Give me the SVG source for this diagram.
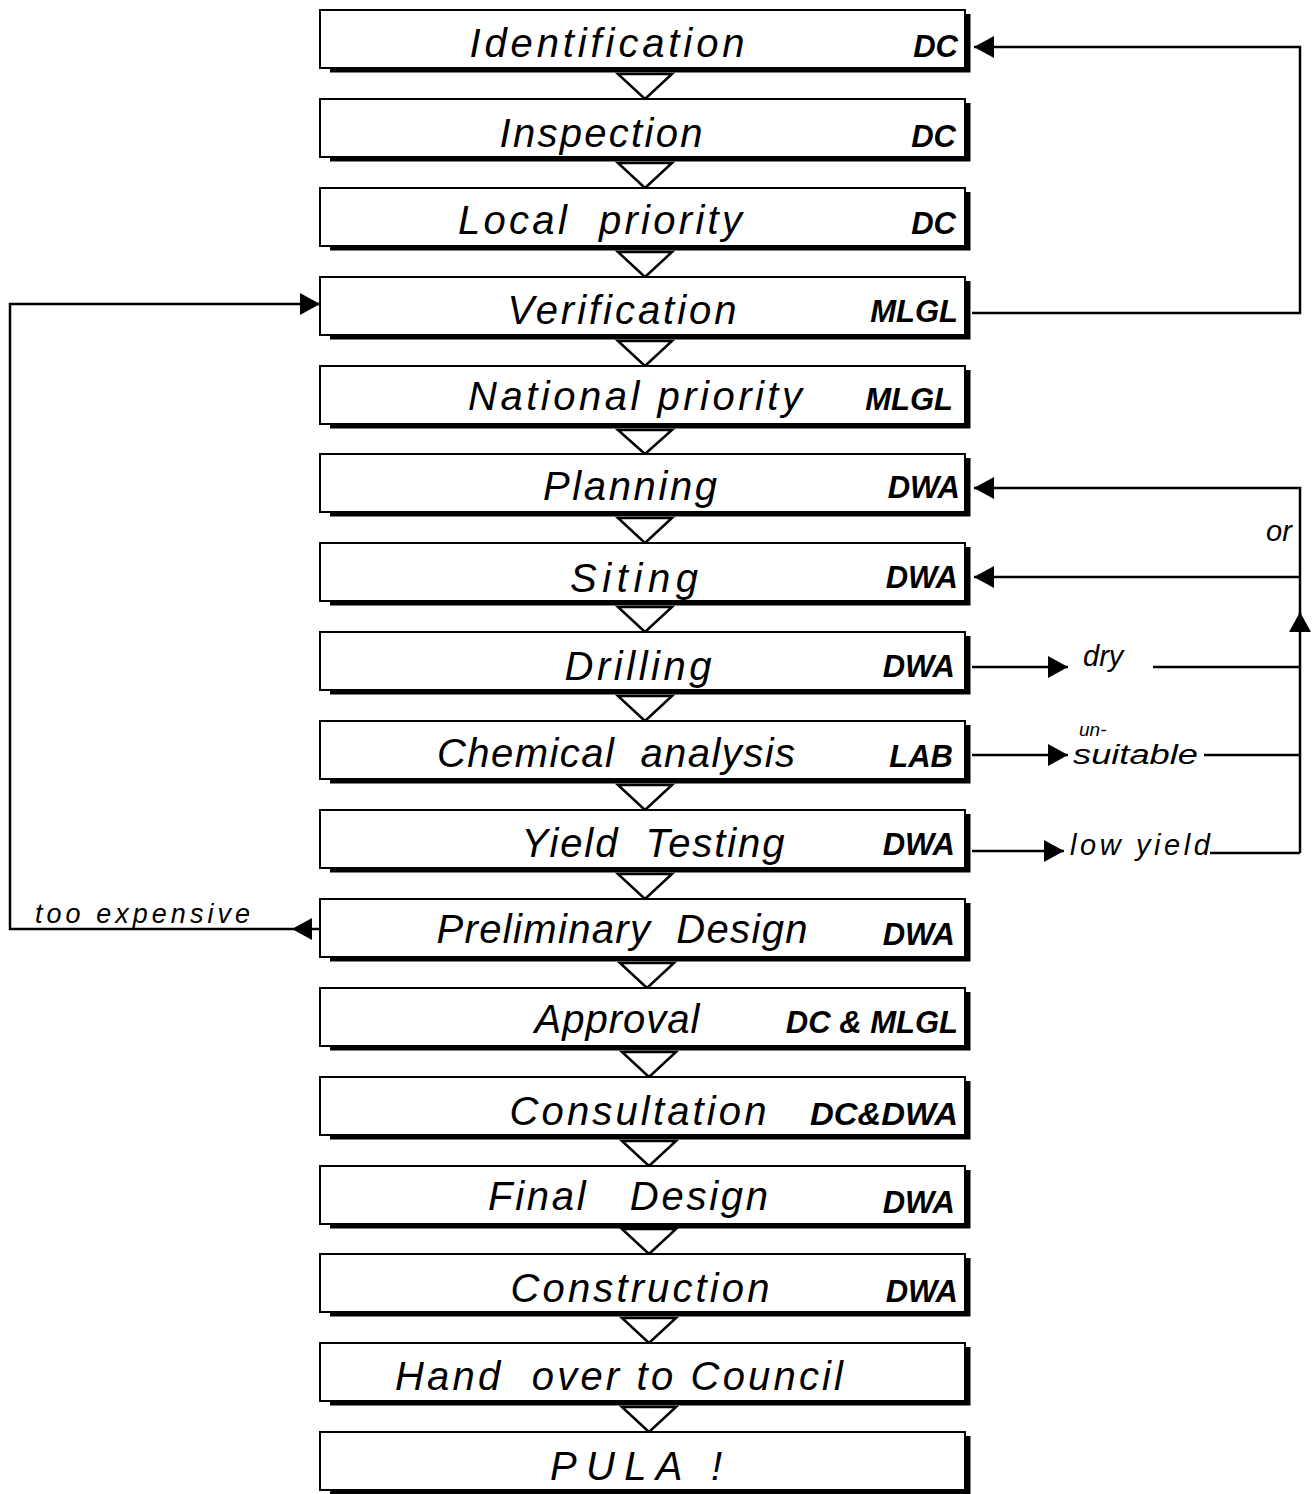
<svg xmlns="http://www.w3.org/2000/svg" width="1313" height="1494" viewBox="0 0 1313 1494">
<style>
.box{fill:#fff;stroke:#000;stroke-width:2}
.sh{fill:none;stroke:#000;stroke-width:5}
.tri{fill:#fff;stroke:#000;stroke-width:2.5;stroke-linejoin:miter}
.lbl{font-family:"Liberation Sans",Arial,sans-serif;font-style:italic;font-size:40px;fill:#000;text-anchor:middle}
.role{font-family:"Liberation Sans",Arial,sans-serif;font-style:italic;font-weight:bold;font-size:31px;fill:#000;text-anchor:end}
.note{font-family:"Liberation Sans",Arial,sans-serif;font-style:italic;font-size:29px;fill:#000}
.con{fill:none;stroke:#000;stroke-width:2.5}
</style>
<defs>
<marker id="ah" markerUnits="userSpaceOnUse" markerWidth="20" markerHeight="22" viewBox="0 0 20 22" refX="20" refY="11" orient="auto">
<path d="M0,0 L20,11 L0,22 z" fill="#000"/>
</marker>
</defs>

<g id="connectors">
<path class="con" d="M972,313 H1300 V47 H974" marker-end="url(#ah)"/>
<path class="con" d="M1300,853 V612" marker-end="url(#ah)"/>
<path class="con" d="M1300,614 V488 H974" marker-end="url(#ah)"/>
<path class="con" d="M1300,577 H974" marker-end="url(#ah)"/>
<path class="con" d="M972,667 H1068" marker-end="url(#ah)"/>
<path class="con" d="M1153,667 H1300"/>
<path class="con" d="M972,755 H1068" marker-end="url(#ah)"/>
<path class="con" d="M1204,755 H1300"/>
<path class="con" d="M972,851 H1064" marker-end="url(#ah)"/>
<path class="con" d="M1210,853 H1300"/>
<path class="con" d="M320,929 H292" marker-end="url(#ah)"/>
<path class="con" d="M292,929 H10 V304 H320" marker-end="url(#ah)"/>
<text class="note" x="1266" y="541">or</text>
<text class="note" x="1083" y="666">dry</text>
<text class="note" x="1079" y="736" style="font-size:19px">un-</text>
<text class="note" x="1073" y="764" textLength="125" lengthAdjust="spacingAndGlyphs" style="font-size:27px">suitable</text>
<text class="note" x="1070" y="855" textLength="140" lengthAdjust="spacing">low yield</text>
<text class="note" x="35" y="923" textLength="215" lengthAdjust="spacing" style="font-size:27px">too expensive</text>
</g>

<g id="flow-arrows">
<polygon class="tri" points="618,74 672,74 645,99"/>
<polygon class="tri" points="618,163 672,163 645,188"/>
<polygon class="tri" points="618,252 672,252 645,277"/>
<polygon class="tri" points="618,341 672,341 645,366"/>
<polygon class="tri" points="618,430 672,430 645,454"/>
<polygon class="tri" points="618,518 672,518 645,543"/>
<polygon class="tri" points="618,607 672,607 645,632"/>
<polygon class="tri" points="618,696 672,696 645,721"/>
<polygon class="tri" points="618,785 672,785 645,810"/>
<polygon class="tri" points="618,874 672,874 645,899"/>
<polygon class="tri" points="620,963 674,963 647,988"/>
<polygon class="tri" points="622,1052 676,1052 649,1077"/>
<polygon class="tri" points="622,1141 676,1141 649,1166"/>
<polygon class="tri" points="622,1229 676,1229 649,1254"/>
<polygon class="tri" points="622,1318 676,1318 649,1343"/>
<polygon class="tri" points="622,1407 676,1407 649,1432"/>
</g>

<g id="n1"><rect class="box" x="320" y="10" width="645" height="58"/><path class="sh" d="M330,70 H968 V14"/><text class="lbl" x="607" y="57" textLength="275" lengthAdjust="spacing">Identification</text><text class="role" x="958" y="57">DC</text></g>
<g id="n2"><rect class="box" x="320" y="99" width="645" height="58"/><path class="sh" d="M330,159 H968 V103"/><text class="lbl" x="601" y="147" textLength="203" lengthAdjust="spacing">Inspection</text><text class="role" x="956" y="147">DC</text></g>
<g id="n3"><rect class="box" x="320" y="188" width="645" height="58"/><path class="sh" d="M330,248 H968 V192"/><text class="lbl" x="600" y="234" textLength="284" lengthAdjust="spacing" xml:space="preserve">Local  priority</text><text class="role" x="956" y="234">DC</text></g>
<g id="n4"><rect class="box" x="320" y="277" width="645" height="58"/><path class="sh" d="M330,337 H968 V281"/><text class="lbl" x="622" y="324" textLength="229" lengthAdjust="spacing">Verification</text><text class="role" x="958" y="322">MLGL</text></g>
<g id="n5"><rect class="box" x="320" y="366" width="645" height="58"/><path class="sh" d="M330,426 H968 V370"/><text class="lbl" x="635" y="410" textLength="334" lengthAdjust="spacing">National priority</text><text class="role" x="953" y="410">MLGL</text></g>
<g id="n6"><rect class="box" x="320" y="454" width="645" height="58"/><path class="sh" d="M330,514 H968 V458"/><text class="lbl" x="630" y="500" textLength="174" lengthAdjust="spacing">Planning</text><text class="role" x="960" y="498">DWA</text></g>
<g id="n7"><rect class="box" x="320" y="543" width="645" height="58"/><path class="sh" d="M330,603 H968 V547"/><text class="lbl" x="634" y="592" textLength="128" lengthAdjust="spacing">Siting</text><text class="role" x="958" y="588">DWA</text></g>
<g id="n8"><rect class="box" x="320" y="632" width="645" height="58"/><path class="sh" d="M330,692 H968 V636"/><text class="lbl" x="638" y="680" textLength="147" lengthAdjust="spacing">Drilling</text><text class="role" x="955" y="677">DWA</text></g>
<g id="n9"><rect class="box" x="320" y="721" width="645" height="58"/><path class="sh" d="M330,781 H968 V725"/><text class="lbl" x="616" y="767" textLength="358" lengthAdjust="spacing" xml:space="preserve">Chemical  analysis</text><text class="role" x="953" y="767">LAB</text></g>
<g id="n10"><rect class="box" x="320" y="810" width="645" height="58"/><path class="sh" d="M330,870 H968 V814"/><text class="lbl" x="653" y="857" textLength="263" lengthAdjust="spacing" xml:space="preserve">Yield  Testing</text><text class="role" x="955" y="855">DWA</text></g>
<g id="n11"><rect class="box" x="320" y="899" width="645" height="58"/><path class="sh" d="M330,959 H968 V903"/><text class="lbl" x="622" y="943" textLength="371" lengthAdjust="spacing" xml:space="preserve">Preliminary  Design</text><text class="role" x="955" y="945">DWA</text></g>
<g id="n12"><rect class="box" x="320" y="988" width="645" height="58"/><path class="sh" d="M330,1048 H968 V992"/><text class="lbl" x="617" y="1033" textLength="165" lengthAdjust="spacing">Approval</text><text class="role" x="958" y="1033">DC &amp; MLGL</text></g>
<g id="n13"><rect class="box" x="320" y="1077" width="645" height="58"/><path class="sh" d="M330,1137 H968 V1081"/><text class="lbl" x="638" y="1125" textLength="257" lengthAdjust="spacing">Consultation</text><text class="role" x="958" y="1125" textLength="148" lengthAdjust="spacingAndGlyphs">DC&amp;DWA</text></g>
<g id="n14"><rect class="box" x="320" y="1166" width="645" height="58"/><path class="sh" d="M330,1226 H968 V1170"/><text class="lbl" x="628" y="1210" textLength="280" lengthAdjust="spacing" xml:space="preserve">Final   Design</text><text class="role" x="955" y="1213">DWA</text></g>
<g id="n15"><rect class="box" x="320" y="1254" width="645" height="58"/><path class="sh" d="M330,1314 H968 V1258"/><text class="lbl" x="640" y="1302" textLength="259" lengthAdjust="spacing">Construction</text><text class="role" x="958" y="1302">DWA</text></g>
<g id="n16"><rect class="box" x="320" y="1343" width="645" height="58"/><path class="sh" d="M330,1403 H968 V1347"/><text class="lbl" x="619" y="1390" textLength="448" lengthAdjust="spacing" xml:space="preserve">Hand  over to Council</text></g>
<g id="n17"><rect class="box" x="320" y="1432" width="645" height="58"/><path class="sh" d="M330,1492 H968 V1436"/><text class="lbl" x="636" y="1480" textLength="172" lengthAdjust="spacing">PULA !</text></g>
</svg>
